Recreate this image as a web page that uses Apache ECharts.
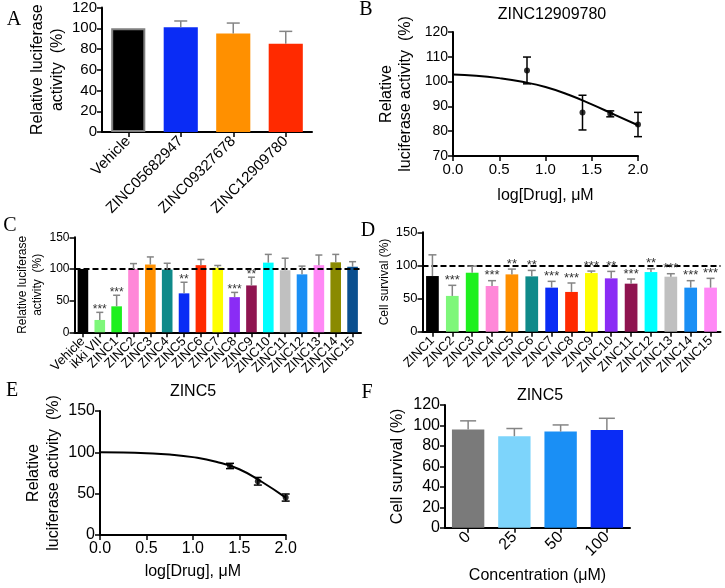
<!DOCTYPE html>
<html>
<head>
<meta charset="utf-8">
<script src="https://cdn.jsdelivr.net/npm/echarts@6/dist/echarts.min.js"></script>
<style>
  html, body { margin: 0; padding: 0; background: #fff; }
  #chart { width: 725px; height: 588px; }
</style>
</head>
<body>
<div id="chart"></div>
<script>
// ---- panel A
var aCats = ['Vehicle', 'ZINC05682947', 'ZINC09327678', 'ZINC12909780'];
var aMean = [100, 101, 95, 85];
var aSd = [0, 6, 10, 12];
var aColors = ['#000000', '#0a2cf5', '#ff9000', '#ff2a00'];

// ---- panel B
var bX = [0.8, 1.4, 1.7, 2.0];
var bMean = [104.5, 87.5, 87, 82.7];
var bSd = [5.4, 7, 1.2, 4.9];
var bCurveX = [0, 0.25, 0.5, 0.75, 1.0, 1.25, 1.5, 1.75, 2.0];
var bCurveY = [102.9, 102.4, 101.4, 99.9, 97.8, 94.7, 90.8, 86.6, 82.4];

// ---- panel C
var cCats = ['Vehicle', 'ikki VII', 'ZINC1', 'ZINC2', 'ZINC3', 'ZINC4', 'ZINC5', 'ZINC6', 'ZINC7',
  'ZINC8', 'ZINC9', 'ZINC10', 'ZINC11', 'ZINC12', 'ZINC13', 'ZINC14', 'ZINC15'];
var cMean = [100, 19.5, 41, 100, 107, 99, 61.5, 106, 102, 55.5, 74, 110, 98, 91.5, 106, 110.5, 103.5];
var cSd = [0, 12, 17.5, 8.5, 12, 10, 17.5, 9, 3.5, 7.5, 13, 13, 19, 13, 16, 12.5, 8];
var cStars = ['', '***', '***', '', '', '', '**', '', '', '***', '**', '', '', '', '', '', ''];
var cColors = ['#000000', '#7ef77a', '#1ef01e', '#ff88d8', '#ff9000', '#0f8a8a', '#0a2cf5', '#ff2a00',
  '#ffff00', '#8a2cf5', '#8f1450', '#00ffff', '#c0c0c0', '#1a8ff5', '#ff88f5', '#8a8a00', '#0a4f8f'];

// ---- panel D
var dCats = ['ZINC1', 'ZINC2', 'ZINC3', 'ZINC4', 'ZINC5', 'ZINC6', 'ZINC7', 'ZINC8',
  'ZINC9', 'ZINC10', 'ZINC11', 'ZINC12', 'ZINC13', 'ZINC14', 'ZINC15'];
var dMean = [84, 54, 89, 69, 86.5, 83.5, 66.5, 60, 88.5, 80.5, 72.5, 90, 83, 66.5, 66.5];
var dSd = [32, 16, 10, 8, 8, 9, 9.5, 13.5, 3, 10.5, 7, 5, 4.5, 10.5, 14];
var dStars = ['', '***', '', '***', '**', '**', '***', '***', '***', '**', '***', '**', '***', '***', '***'];
var dColors = ['#000000', '#7ef77a', '#1ef01e', '#ff88d8', '#ff9000', '#0f8a8a', '#0a2cf5', '#ff2a00',
  '#ffff00', '#8a2cf5', '#8f1450', '#00ffff', '#c0c0c0', '#1a8ff5', '#ff88f5'];

// ---- panel E
var eX = [1.4, 1.7, 2.0];
var eMean = [83.5, 65, 45.3];
var eSd = [3.2, 4.6, 4.3];
var eCurveX = [0, 0.25, 0.5, 0.75, 1.0, 1.25, 1.5, 1.75, 2.0];
var eCurveY = [100, 99.8, 99, 97.4, 94.2, 88.6, 79.5, 63.8, 45.2];

// ---- panel F
var fCats = ['0', '25', '50', '100'];
var fMean = [96, 89.5, 94, 95.5];
var fSd = [8.5, 7.5, 6.5, 11.5];
var fColors = ['#7a7a7a', '#7dd4fb', '#1a8ff5', '#0a2cf5'];

var FONT = 'Liberation Sans, Arial, sans-serif';

function pairs(xs, ys) {
  return xs.map(function (x, i) { return [x, ys[i]]; });
}
function barData(vals, colors) {
  return vals.map(function (v, i) { return { value: v, itemStyle: { color: colors[i] } }; });
}
function errData(mean, sd) {
  return mean.map(function (m, i) { return [i, m, m + sd[i]]; });
}

// one-sided (upward) error bars above bars, optional star text
function upErr(capHalf, stars, starFont, starLift) {
  return function (params, api) {
    var i = params.dataIndex;
    var p0 = api.coord([api.value(0), api.value(1)]);
    var p1 = api.coord([api.value(0), api.value(2)]);
    var st = { stroke: '#858585', lineWidth: 1.5 };
    var kids = [];
    if (api.value(2) > api.value(1)) {
      kids.push({ type: 'line', shape: { x1: p0[0], y1: p0[1], x2: p1[0], y2: p1[1] }, style: st });
      kids.push({ type: 'line', shape: { x1: p1[0] - capHalf, y1: p1[1], x2: p1[0] + capHalf, y2: p1[1] }, style: st });
    }
    if (stars && stars[i]) {
      kids.push({
        type: 'text', x: p1[0], y: p1[1] - starLift,
        style: { text: stars[i], fill: '#333', font: starFont, align: 'center', verticalAlign: 'middle' }
      });
    }
    return { type: 'group', children: kids };
  };
}

// two-sided error bars for the dose-response points
function bothErr(capHalf) {
  return function (params, api) {
    var lo = api.coord([api.value(0), api.value(1)]);
    var hi = api.coord([api.value(0), api.value(2)]);
    var st = { stroke: '#000', lineWidth: 1.5 };
    return {
      type: 'group', children: [
        { type: 'line', shape: { x1: lo[0], y1: lo[1], x2: hi[0], y2: hi[1] }, style: st },
        { type: 'line', shape: { x1: lo[0] - capHalf, y1: lo[1], x2: lo[0] + capHalf, y2: lo[1] }, style: st },
        { type: 'line', shape: { x1: hi[0] - capHalf, y1: hi[1], x2: hi[0] + capHalf, y2: hi[1] }, style: st }
      ]
    };
  };
}
function ptErrData(xs, mean, sd) {
  return xs.map(function (x, i) { return [x, mean[i] - sd[i], mean[i] + sd[i]]; });
}

var axLine = { show: true, lineStyle: { color: '#000', width: 2 } };
var axTick = { show: true, inside: false, length: 5, lineStyle: { color: '#000', width: 1.5 } };

function catX(idx, cats, fs) {
  return {
    type: 'category', gridIndex: idx, data: cats,
    axisLine: axLine, axisTick: { show: true, alignWithLabel: true, length: 5, lineStyle: { color: '#000', width: 1.5 } },
    axisLabel: { rotate: 45, interval: 0, margin: 7, color: '#000', fontFamily: FONT, fontSize: fs },
    splitLine: { show: false }
  };
}
function valY(idx, min, max, step, fs, name, nameSize, lineH, gap) {
  return {
    type: 'value', gridIndex: idx, min: min, max: max, interval: step,
    axisLine: axLine, axisTick: axTick, splitLine: { show: false },
    axisLabel: { margin: 5, color: '#000', fontFamily: FONT, fontSize: fs },
    name: name, nameLocation: 'middle', nameGap: gap,
    nameTextStyle: { color: '#000', fontFamily: FONT, fontSize: nameSize, lineHeight: lineH }
  };
}
function doseX(idx, fs, nameSize, gap) {
  return {
    type: 'value', gridIndex: idx, min: 0, max: 2, interval: 0.5,
    axisLine: axLine, axisTick: axTick, splitLine: { show: false },
    axisLabel: { margin: 6, color: '#000', fontFamily: FONT, fontSize: fs, formatter: function (v) { return v.toFixed(1); } },
    name: 'log[Drug], μM', nameLocation: 'middle', nameGap: gap,
    nameTextStyle: { color: '#000', fontFamily: FONT, fontSize: nameSize }
  };
}
function dashed100() {
  return {
    silent: true, symbol: 'none', label: { show: false },
    lineStyle: { type: [6, 3], color: '#000', width: 2 },
    data: [{ yAxis: 100 }]
  };
}
function letter(t, x, y) {
  return { type: 'text', x: x, y: y, style: { text: t, font: '20px Liberation Serif, Times New Roman, serif', fill: '#000', align: 'center', verticalAlign: 'middle' } };
}
function heading(t, x, y) {
  return { type: 'text', x: x, y: y, style: { text: t, font: '16px ' + FONT, fill: '#000', align: 'center', verticalAlign: 'middle' } };
}

var chart = echarts.init(document.getElementById('chart'), null, { renderer: 'canvas' });
chart.setOption({
  animation: false,
  backgroundColor: '#fff',
  grid: [
    { left: 102, top: 7, width: 210, height: 125 },
    { left: 453, top: 32, width: 185, height: 124 },
    { left: 74.5, top: 237.3, width: 286.5, height: 95 },
    { left: 422.5, top: 232.3, width: 298, height: 99.4 },
    { left: 100, top: 411, width: 185.7, height: 124 },
    { left: 445, top: 405, width: 185, height: 122.7 }
  ],
  xAxis: [
    catX(0, aCats, 15),
    doseX(1, 15, 16, 32),
    catX(2, cCats, 13),
    catX(3, dCats, 13),
    doseX(4, 16, 16, 29),
    (function () {
      var ax = catX(5, fCats, 16);
      ax.name = 'Concentration (μM)';
      ax.nameLocation = 'middle';
      ax.nameGap = 40;
      ax.nameTextStyle = { color: '#000', fontFamily: FONT, fontSize: 16 };
      return ax;
    })()
  ],
  yAxis: [
    valY(0, 0, 120, 20, 15, 'Relative luciferase\nactivity  (%)', 16, 20, 30),
    valY(1, 70, 120, 10, 14, 'Relative\nluciferase activity  (%)', 16, 19, 38),
    valY(2, 0, 150, 50, 12, 'Relative luciferase\nactivity  (%)', 12, 15, 24),
    valY(3, 0, 150, 50, 13, 'Cell survival (%)', 12, 14, 24),
    valY(4, 0, 150, 50, 16, 'Relative\nluciferase activity  (%)', 16, 20, 36),
    valY(5, 0, 120, 20, 16, 'Cell survival (%)', 16, 18, 38)
  ],
  graphic: [
    letter('A', 14, 20),
    letter('B', 366, 10),
    letter('C', 10, 226),
    letter('D', 368, 231),
    letter('E', 12, 391),
    letter('F', 367, 393),
    heading('ZINC12909780', 552, 15),
    heading('ZINC5', 193, 392),
    heading('ZINC5', 540, 396)
  ],
  series: [
    // A
    {
      type: 'bar', xAxisIndex: 0, yAxisIndex: 0, barWidth: '65%',
      data: aMean.map(function (v, i) {
        var it = { value: v, itemStyle: { color: aColors[i] } };
        if (i === 0) { it.itemStyle.borderColor = '#808080'; it.itemStyle.borderWidth = 2; }
        return it;
      })
    },
    { type: 'custom', xAxisIndex: 0, yAxisIndex: 0, z: 5, renderItem: upErr(6.5, null), data: errData(aMean, aSd) },
    // B
    {
      type: 'line', xAxisIndex: 1, yAxisIndex: 1, smooth: true, symbol: 'none',
      lineStyle: { color: '#000', width: 2 }, data: pairs(bCurveX, bCurveY)
    },
    { type: 'custom', xAxisIndex: 1, yAxisIndex: 1, renderItem: bothErr(4), data: ptErrData(bX, bMean, bSd) },
    {
      type: 'scatter', xAxisIndex: 1, yAxisIndex: 1, symbolSize: 6,
      itemStyle: { color: '#000' }, data: pairs(bX, bMean)
    },
    // C
    {
      type: 'bar', xAxisIndex: 2, yAxisIndex: 2, barWidth: '63%',
      data: barData(cMean, cColors), markLine: dashed100()
    },
    { type: 'custom', xAxisIndex: 2, yAxisIndex: 2, z: 5, renderItem: upErr(3.5, cStars, '12px ' + FONT, 2.5), data: errData(cMean, cSd) },
    // D
    {
      type: 'bar', xAxisIndex: 3, yAxisIndex: 3, barWidth: '64%',
      data: barData(dMean, dColors), markLine: dashed100()
    },
    { type: 'custom', xAxisIndex: 3, yAxisIndex: 3, z: 5, renderItem: upErr(4, dStars, '13px ' + FONT, 5), data: errData(dMean, dSd) },
    // E
    {
      type: 'line', xAxisIndex: 4, yAxisIndex: 4, smooth: true, symbol: 'none',
      lineStyle: { color: '#000', width: 2 }, data: pairs(eCurveX, eCurveY)
    },
    { type: 'custom', xAxisIndex: 4, yAxisIndex: 4, renderItem: bothErr(4), data: ptErrData(eX, eMean, eSd) },
    {
      type: 'scatter', xAxisIndex: 4, yAxisIndex: 4, symbolSize: 6,
      itemStyle: { color: '#000' }, data: pairs(eX, eMean)
    },
    // F
    { type: 'bar', xAxisIndex: 5, yAxisIndex: 5, barWidth: '70%', data: barData(fMean, fColors) },
    { type: 'custom', xAxisIndex: 5, yAxisIndex: 5, z: 5, renderItem: upErr(8, null), data: errData(fMean, fSd) }
  ]
});
</script>
</body>
</html>
